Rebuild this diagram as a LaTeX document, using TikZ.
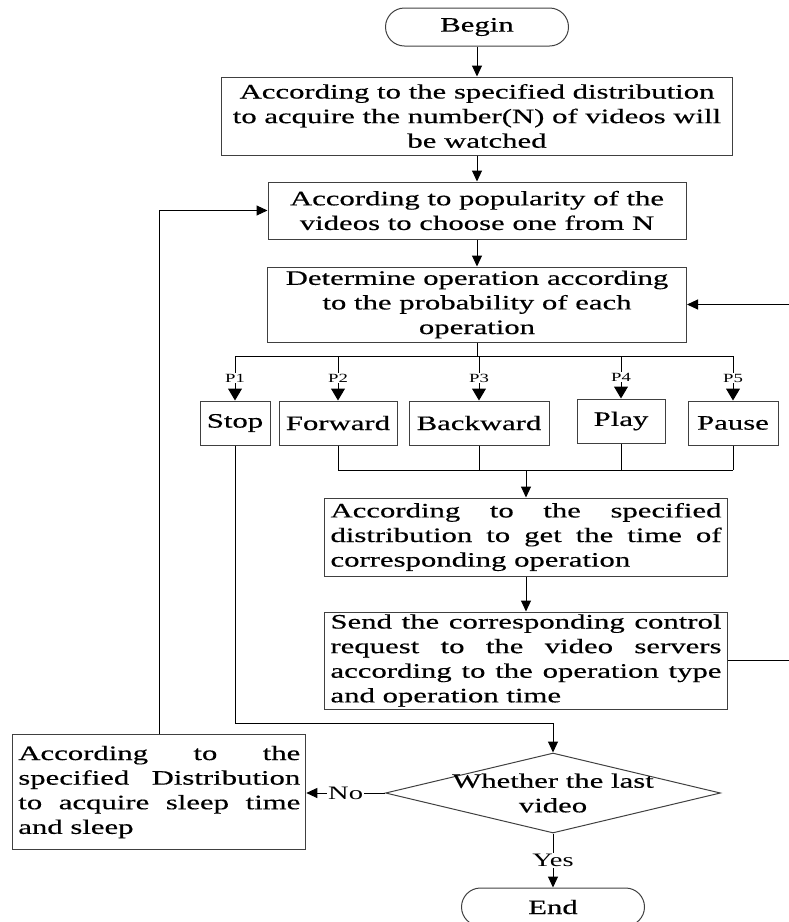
\documentclass[tikz,border=0pt]{standalone}
\usepackage{fontspec}
\setmainfont[FakeStretch=1.5,FakeBold=0.4]{Liberation Serif}
\newfontfamily\tagfont[FakeStretch=1.5]{Liberation Serif}
\usetikzlibrary{arrows.meta,shapes.geometric}

\tikzset{
  box/.style={draw=black!75, line width=1pt, inner sep=2pt, align=center,
    font=\fontsize{20.5}{24.6}\selectfont},
  jbox/.style={box, align=justify, inner xsep=6pt},
  term/.style={box, rounded corners=19pt, minimum width=183pt, minimum height=38pt},
  link/.style={line width=1pt},
  flow/.style={link, -{Triangle[length=11pt,width=10pt]}},
  pflow/.style={link, -{Triangle[length=12pt,width=14pt]}},
  ptag/.style={fill=white, inner sep=1pt, font=\tagfont\fontsize{12.5}{14}\selectfont},
  yntag/.style={fill=white, inner sep=1pt, font=\tagfont\fontsize{19}{22}\selectfont}
}

\begin{document}
\begin{tikzpicture}[x=1pt,y=-1pt]
  \useasboundingbox (0,0) rectangle (789,922);
  \clip (0,0) rectangle (789,922);

  % Main column
  \node[term] (begin) at (477,27) {Begin};
  \node[box, minimum width=511pt, minimum height=78pt] (acq) at (477,116)
    {According to the specified distribution\\to acquire the number(N) of videos will\\be watched};
  \node[box, minimum width=418pt, minimum height=57pt] (pick) at (477,210.5)
    {According to popularity of the\\videos to choose one from N};
  \node[box, minimum width=419pt, minimum height=75pt] (oper) at (477,304.5)
    {Determine operation according\\to the probability of each\\operation};

  % Operations
  \node[box, minimum width=70pt, minimum height=44pt] (stop) at (235,423) {Stop};
  \node[box, minimum width=118pt, minimum height=44pt] (fwd) at (338,423) {Forward};
  \node[box, minimum width=140pt, minimum height=44pt] (bwd) at (479,423) {Backward};
  \node[box, minimum width=88pt, minimum height=44pt] (play) at (621,421) {Play};
  \node[box, minimum width=90pt, minimum height=44pt] (pause) at (733,423) {Pause};

  \node[jbox, text width=391pt, minimum height=78pt] (gettime) at (526,537)
    {According to the specified\linebreak distribution to get the time of\linebreak corresponding operation};
  \node[jbox, text width=391pt, minimum height=97pt] (send) at (526,660.5)
    {Send the corresponding control\linebreak request to the video servers\linebreak according to the operation type\linebreak and operation time};

  % Decision and exit
  \node[draw=black!75, line width=1pt, diamond, inner sep=0pt,
    minimum width=335pt, minimum height=80pt] (last) at (553,793) {};
  \node[align=center, font=\fontsize{20.5}{24.6}\selectfont] (lasttext) at (last.center)
    {Whether the last\\video};
  \node[jbox, text width=282pt, inner xsep=5.5pt, minimum height=115pt] (sleep) at (159.3,792)
    {According to the\linebreak specified Distribution\linebreak to acquire sleep time\linebreak and sleep};
  \node[term] (finish) at (553,907) {End};

  % Connectors
  \draw[flow] (begin) -- (acq);
  \draw[flow] (acq) -- (pick);
  \draw[flow] (pick) -- (oper);

  \coordinate (fork) at (477,356);
  \draw[link] (oper.south) -- (fork);
  \draw[link] (stop.north |- fork) -- (pause.north |- fork);
  \foreach \op/\p in {stop/P1, fwd/P2, bwd/P3, play/P4, pause/P5}
    \draw[pflow] (\op.north |- fork) -- node[ptag] {\p} (\op.north);

  \coordinate (join) at (526,470);
  \draw[link] (fwd.south |- join) -- (pause.south |- join);
  \foreach \op in {fwd, bwd, play, pause}
    \draw[link] (\op.south) -- (\op.south |- join);
  \draw[flow] (join) -- (gettime.north);
  \draw[flow] (gettime) -- (send);

  \coordinate (stopturn) at (235,723);
  \draw[flow] (stop.south) -- (stopturn) -| (last.north);
  \draw[flow] (last.west) -- node[yntag] {No} (last.west -| sleep.east);
  \draw[flow] (last.south) -- node[yntag] {Yes} (finish.north);

  % Loops back
  \draw[flow] (sleep.north) |- (pick.west);
  \coordinate (backright) at (797,660.5);
  \draw[flow] (send.east) -- (backright) |- (oper.east);
\end{tikzpicture}
\end{document}
